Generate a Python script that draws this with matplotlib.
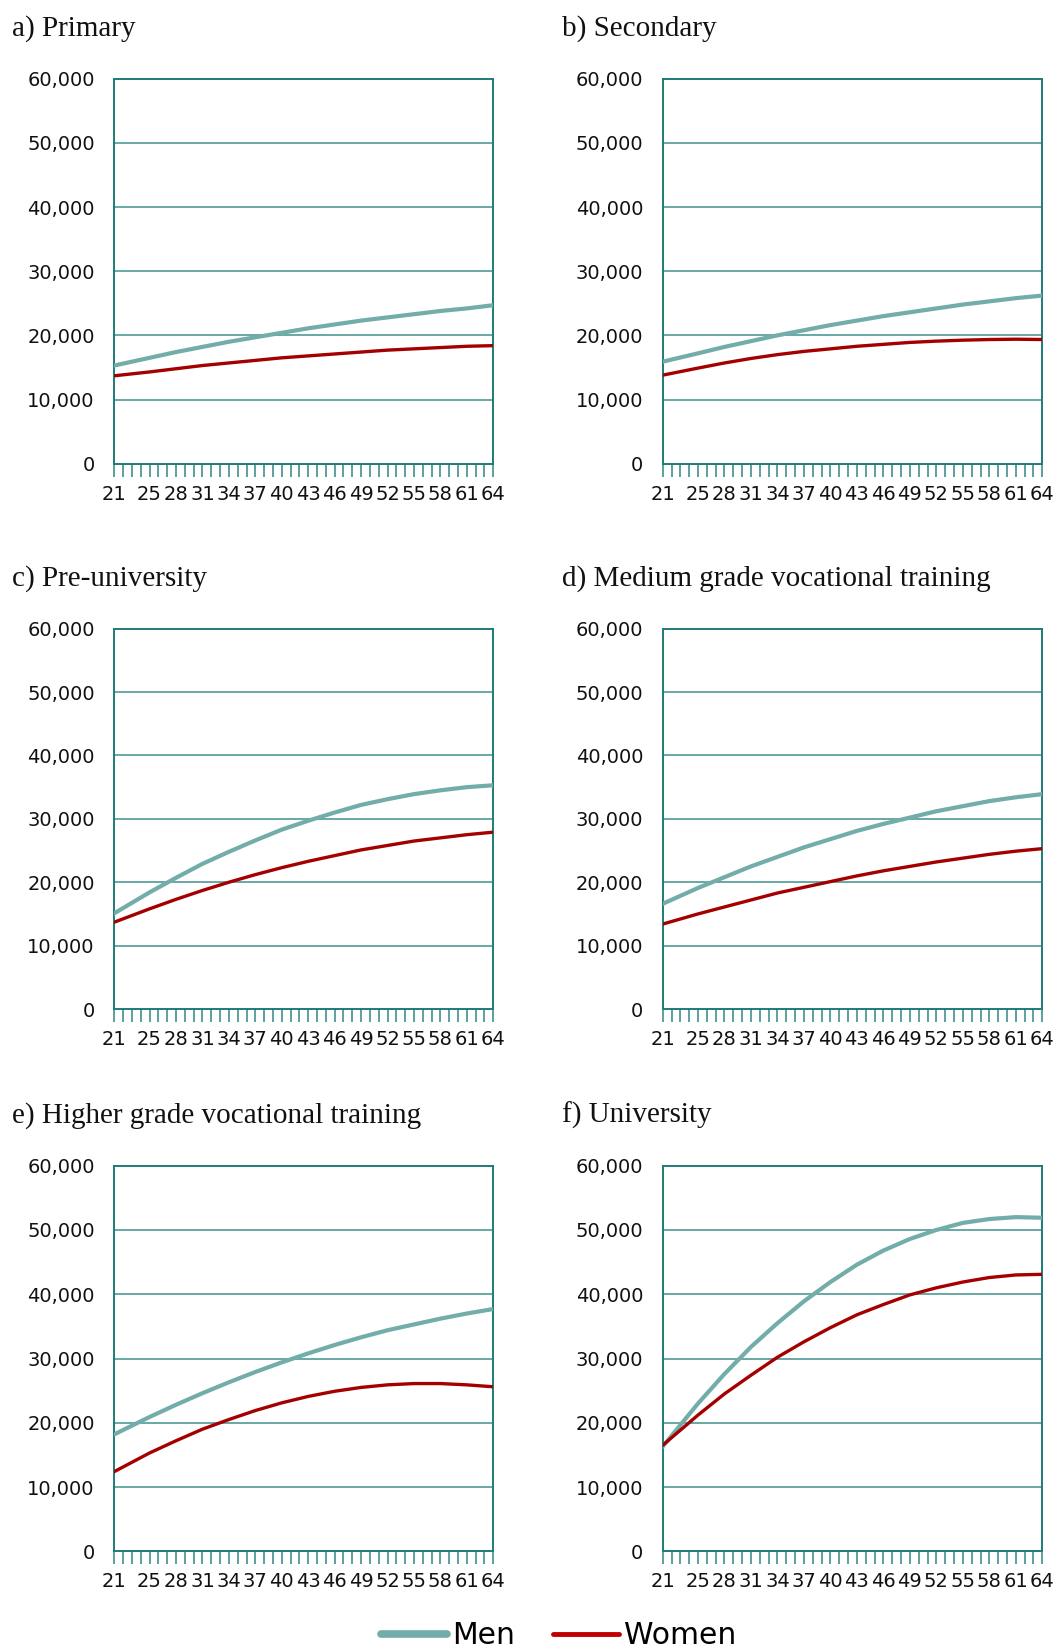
import numpy as np
import matplotlib

matplotlib.use("Agg")
import matplotlib.pyplot as plt
from matplotlib.ticker import FuncFormatter, FixedLocator
from matplotlib.lines import Line2D

plt.rcParams["font.family"] = ["DejaVu Sans"]

# ages (labelled ages)
ages = [21, 25, 28, 31, 34, 37, 40, 43, 46, 49, 52, 55, 58, 61, 64]

titles = [
    "a) Primary",
    "b) Secondary",
    "c) Pre-university",
    "d) Medium grade vocational training",
    "e) Higher grade vocational training",
    "f) University",
]

# earnings, thousands
men_primary = [15.3, 16.5, 17.4, 18.2, 19.0, 19.7, 20.4, 21.1, 21.7, 22.3, 22.8, 23.3, 23.8, 24.2, 24.7]
women_primary = [13.7, 14.3, 14.8, 15.3, 15.7, 16.1, 16.5, 16.8, 17.1, 17.4, 17.7, 17.9, 18.1, 18.3, 18.4]
men_secondary = [15.9, 17.2, 18.2, 19.1, 20.0, 20.8, 21.6, 22.3, 23.0, 23.6, 24.2, 24.8, 25.3, 25.8, 26.2]
women_secondary = [13.8, 14.9, 15.7, 16.4, 17.0, 17.5, 17.9, 18.3, 18.6, 18.9, 19.1, 19.25, 19.35, 19.4, 19.35]
men_preuni = [15.1, 18.4, 20.7, 22.9, 24.8, 26.6, 28.3, 29.7, 31.0, 32.2, 33.1, 33.9, 34.5, 35.0, 35.3]
women_preuni = [13.7, 15.8, 17.3, 18.7, 20.0, 21.2, 22.3, 23.3, 24.2, 25.1, 25.8, 26.5, 27.0, 27.5, 27.9]
men_medium = [16.6, 19.1, 20.8, 22.5, 24.0, 25.5, 26.8, 28.1, 29.2, 30.2, 31.2, 32.0, 32.8, 33.4, 33.9]
women_medium = [13.4, 15.0, 16.1, 17.2, 18.3, 19.2, 20.1, 21.0, 21.8, 22.5, 23.2, 23.8, 24.4, 24.9, 25.3]
men_higher = [18.2, 20.9, 22.8, 24.6, 26.3, 27.9, 29.4, 30.8, 32.1, 33.3, 34.4, 35.3, 36.2, 37.0, 37.7]
women_higher = [12.4, 15.3, 17.2, 19.0, 20.5, 21.9, 23.1, 24.1, 24.9, 25.5, 25.9, 26.1, 26.1, 25.9, 25.6]
men_university = [16.3, 23.0, 27.6, 31.8, 35.5, 38.9, 41.9, 44.6, 46.8, 48.6, 50.0, 51.1, 51.7, 52.0, 51.9]
women_university = [16.5, 21.2, 24.5, 27.4, 30.2, 32.6, 34.8, 36.8, 38.4, 39.9, 41.0, 41.9, 42.6, 43.0, 43.1]

men = [men_primary, men_secondary, men_preuni, men_medium, men_higher, men_university]
women = [women_primary, women_secondary, women_preuni, women_medium, women_higher, women_university]

xtick_labels = [21, 25, 28, 31, 34, 37, 40, 43, 46, 49, 52, 55, 58, 61, 64]
yticks = [0, 10000, 20000, 30000, 40000, 50000, 60000]

MEN_C = "#72ADA9"
WOMEN_C = "#A50000"
TEAL = "#1E7B76"
GRID = "#3F918C"

W, H = 1054, 1650
fig = plt.figure(figsize=(W / 100, H / 100), dpi=100)

cols = [(114.3, 379.0), (662.7, 379.6)]
rows = [(78.7, 463.7), (628.7, 1009.0), (1165.7, 1551.3)]
title_y = [36, 586, 1123]
title_x = [12, 562]

for i in range(6):
    r, c = divmod(i, 2)
    left, width = cols[c]
    top, bottom = rows[r]
    ax = fig.add_axes([left / W, 1 - bottom / H, width / W, (bottom - top) / H])

    ax.plot(ages, np.array(men[i]) * 1000, color=MEN_C, lw=3.0, zorder=3)
    ax.plot(ages, np.array(women[i]) * 1000, color=WOMEN_C, lw=2.4, zorder=4)

    ax.set_xlim(21, 64)
    ax.set_ylim(0, 60000)
    ax.set_yticks(yticks)
    ax.yaxis.set_major_formatter(FuncFormatter(lambda v, p: f"{int(v):,}"))
    ax.tick_params(axis="y", length=0, pad=14, labelsize=14, labelcolor="#111111")

    ax.xaxis.set_major_locator(FixedLocator(xtick_labels))
    ax.xaxis.set_minor_locator(FixedLocator(list(range(21, 65))))
    ax.tick_params(axis="x", which="both", direction="out", length=9, width=1.2,
                   color=GRID, pad=6, labelsize=14, labelcolor="#111111")
    ax.set_xticklabels([str(a) for a in xtick_labels])

    for y in yticks[1:-1]:
        ax.axhline(y, color=GRID, lw=1.1, zorder=1)
    for s in ax.spines.values():
        s.set_color(TEAL)
        s.set_linewidth(1.4)

    fig.text(title_x[c] / W, 1 - title_y[r] / H, titles[i], ha="left", va="baseline",
             fontsize=21, family=["Liberation Serif"], color="#111111")

handles = [Line2D([], [], color=MEN_C, lw=5.5, solid_capstyle="round"),
           Line2D([], [], color="#C00000", lw=3.5, solid_capstyle="round")]
fig.legend(handles, ["Men", "Women"], loc="center", bbox_to_anchor=(0.53, 1 - 1636 / H),
           ncol=2, frameon=False, fontsize=21.5, handlelength=2.2, handletextpad=0.15,
           columnspacing=1.3, borderaxespad=0, borderpad=0)

fig.savefig("out.png", dpi=100)
